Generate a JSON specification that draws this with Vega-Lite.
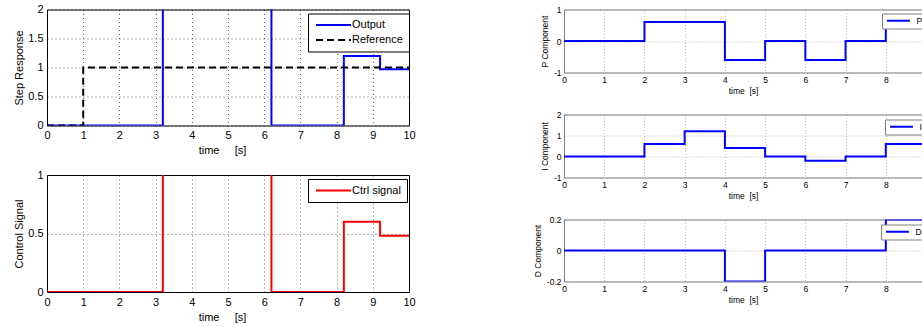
{
  "$schema": "https://vega.github.io/schema/vega-lite/v6.json",
  "padding": {"left": 12, "top": 2.5, "right": 0, "bottom": 0},
  "background": "white",
  "config": {
    "font": "Liberation Sans",
    "axis": {
      "grid": true,
      "labelFlush": false,
      "labelOverlap": false,
      "labelBound": false,
      "titleFontWeight": "normal",
      "labelColor": "#000",
      "titleColor": "#000",
      "tickSize": 0,
      "domain": false
    },
    "legend": {"title": null}
  },
  "datasets": {
    "resp": [
      {"t": 0, "v": 0, "s": "Output"},
      {"t": 3.2, "v": 5, "s": "Output"},
      {"t": 6.2, "v": 0, "s": "Output"},
      {"t": 8.2, "v": 1.2, "s": "Output"},
      {"t": 9.2, "v": 0.97, "s": "Output"},
      {"t": 10, "v": 0.97, "s": "Output"},
      {"t": 0, "v": 0, "s": "Reference"},
      {"t": 1, "v": 1, "s": "Reference"},
      {"t": 10, "v": 1, "s": "Reference"}
    ],
    "ctrl": [
      {"t": 0, "v": 0, "s": "Ctrl signal"},
      {"t": 3.2, "v": 5, "s": "Ctrl signal"},
      {"t": 6.2, "v": 0, "s": "Ctrl signal"},
      {"t": 8.2, "v": 0.6, "s": "Ctrl signal"},
      {"t": 9.2, "v": 0.48, "s": "Ctrl signal"},
      {"t": 10, "v": 0.48, "s": "Ctrl signal"}
    ],
    "p": [
      {"t": 0, "v": 0, "s": "P"},
      {"t": 2, "v": 0.6, "s": "P"},
      {"t": 4, "v": -0.6, "s": "P"},
      {"t": 5, "v": 0, "s": "P"},
      {"t": 6, "v": -0.6, "s": "P"},
      {"t": 7, "v": 0, "s": "P"},
      {"t": 8, "v": 0.6, "s": "P"},
      {"t": 10, "v": 0.6, "s": "P"}
    ],
    "i": [
      {"t": 0, "v": 0, "s": "I"},
      {"t": 2, "v": 0.6, "s": "I"},
      {"t": 3, "v": 1.2, "s": "I"},
      {"t": 4, "v": 0.4, "s": "I"},
      {"t": 5, "v": 0, "s": "I"},
      {"t": 6, "v": -0.2, "s": "I"},
      {"t": 7, "v": 0, "s": "I"},
      {"t": 8, "v": 0.6, "s": "I"},
      {"t": 10, "v": 0.6, "s": "I"}
    ],
    "d": [
      {"t": 0, "v": 0, "s": "D"},
      {"t": 4, "v": -0.2, "s": "D"},
      {"t": 5, "v": 0, "s": "D"},
      {"t": 8, "v": 0.2, "s": "D"},
      {"t": 10, "v": 0.2, "s": "D"}
    ]
  },
  "columns": 2,
  "align": "none",
  "spacing": 117,
  "resolve": {
    "scale": {"x": "independent", "y": "independent", "color": "independent", "strokeDash": "independent"},
    "axis": {"x": "independent", "y": "independent"},
    "legend": {"color": "independent", "strokeDash": "independent"}
  },
  "concat": [
    {
      "spacing": 11.5,
      "resolve": {
        "scale": {"x": "independent", "y": "independent", "color": "independent", "strokeDash": "independent"},
        "axis": {"x": "independent", "y": "independent"},
        "legend": {"color": "independent", "strokeDash": "independent"}
      },
      "vconcat": [
        {
          "width": 362,
          "height": 116,
          "view": {"stroke": "#000", "strokeWidth": 1},
          "data": {"name": "resp"},
          "mark": {"type": "line", "interpolate": "step-after", "strokeWidth": 2, "clip": true},
          "encoding": {
            "x": {
              "field": "t", "type": "quantitative",
              "scale": {"domain": [0, 10], "nice": false},
              "axis": {
                "values": [0, 1, 2, 3, 4, 5, 6, 7, 8, 9, 10],
                "title": "time\u00a0\u00a0\u00a0\u00a0\u00a0[s]",
                "titleX": 175,
                "labelFontSize": 11, "titleFontSize": 11,
                "labelPadding": 4, "titlePadding": 4,
                "gridColor": "#000", "gridOpacity": 0.6, "gridDash": [1, 3]
              }
            },
            "y": {
              "field": "v", "type": "quantitative",
              "scale": {"domain": [0, 2], "nice": false},
              "axis": {
                "values": [0, 0.5, 1, 1.5, 2],
                "labelExpr": "'' + datum.value",
                "title": "Step Response",
                "labelFontSize": 11, "titleFontSize": 11,
                "labelPadding": 4, "titlePadding": 3,
                "minExtent": 20, "maxExtent": 20,
                "gridColor": "#000", "gridOpacity": 0.6, "gridDash": [1, 3]
              }
            },
            "color": {
              "field": "s", "type": "nominal",
              "scale": {"domain": ["Output", "Reference"], "range": ["#0000ff", "#000000"]},
              "legend": {
                "orient": "none", "legendX": 261, "legendY": 4,
                "padding": 6, "strokeColor": "#000", "fillColor": "#fff",
                "symbolType": "M-5,0H5", "symbolSize": 49, "symbolStrokeWidth": 2,
                "symbolOffset": 14, "labelOffset": 13, "labelFontSize": 11,
                "rowPadding": 3, "labelColor": "#000"
              }
            },
            "strokeDash": {
              "field": "s", "type": "nominal",
              "scale": {"domain": ["Output", "Reference"], "range": [[1, 0], [7, 4]]},
              "legend": {
                "orient": "none", "legendX": 261, "legendY": 4,
                "padding": 6, "strokeColor": "#000", "fillColor": "#fff",
                "symbolType": "M-5,0H5", "symbolSize": 49, "symbolStrokeWidth": 2,
                "symbolOffset": 14, "labelOffset": 13, "labelFontSize": 11,
                "rowPadding": 3, "labelColor": "#000"
              }
            }
          }
        },
        {
          "width": 362,
          "height": 117,
          "view": {"stroke": "#000", "strokeWidth": 1},
          "data": {"name": "ctrl"},
          "mark": {"type": "line", "interpolate": "step-after", "strokeWidth": 2, "clip": true},
          "encoding": {
            "x": {
              "field": "t", "type": "quantitative",
              "scale": {"domain": [0, 10], "nice": false},
              "axis": {
                "values": [0, 1, 2, 3, 4, 5, 6, 7, 8, 9, 10],
                "title": "time\u00a0\u00a0\u00a0\u00a0\u00a0[s]",
                "titleX": 175,
                "labelFontSize": 11, "titleFontSize": 11,
                "labelPadding": 4, "titlePadding": 4,
                "gridColor": "#000", "gridOpacity": 0.6, "gridDash": [1, 3]
              }
            },
            "y": {
              "field": "v", "type": "quantitative",
              "scale": {"domain": [0, 1], "nice": false},
              "axis": {
                "values": [0, 0.5, 1],
                "labelExpr": "'' + datum.value",
                "title": "Control Signal",
                "labelFontSize": 11, "titleFontSize": 11,
                "labelPadding": 4, "titlePadding": 3,
                "minExtent": 20, "maxExtent": 20,
                "gridColor": "#000", "gridOpacity": 0.6, "gridDash": [1, 3]
              }
            },
            "color": {
              "field": "s", "type": "nominal",
              "scale": {"domain": ["Ctrl signal"], "range": ["#ff0000"]},
              "legend": {
                "orient": "none", "legendX": 261, "legendY": 4,
                "padding": 6, "strokeColor": "#000", "fillColor": "#fff",
                "symbolType": "M-5,0H5", "symbolSize": 49, "symbolStrokeWidth": 2,
                "symbolOffset": 14, "labelOffset": 13, "labelFontSize": 11,
                "labelColor": "#000"
              }
            }
          }
        }
      ]
    },
    {
      "spacing": 16,
      "resolve": {
        "scale": {"x": "independent", "y": "independent", "color": "independent"},
        "axis": {"x": "independent", "y": "independent"},
        "legend": {"color": "independent"}
      },
      "vconcat": [
        {
          "width": 358,
          "height": 63,
          "view": {"stroke": null},
          "data": {"name": "p"},
          "resolve": {"axis": {"x": "independent"}},
          "layer": [
            {
              "mark": {"type": "line", "interpolate": "step-after", "strokeWidth": 2, "clip": true},
              "encoding": {
                "x": {
                  "field": "t", "type": "quantitative",
                  "scale": {"domain": [0, 8.9], "nice": false},
                  "axis": {
                    "values": [0, 1, 2, 3, 4, 5, 6, 7, 8],
                    "title": "time\u00a0\u00a0[s]",
                    "labelFontSize": 8.5, "titleFontSize": 8.5,
                    "labelPadding": 3, "titlePadding": 2,
                    "domain": true, "domainColor": "#808080",
                    "gridColor": "#bbbbbb", "gridDash": [1, 2]
                  }
                },
                "y": {
                  "field": "v", "type": "quantitative",
                  "scale": {"domain": [-1, 1], "nice": false},
                  "axis": {
                    "values": [-1, 0, 1],
                    "labelExpr": "'' + datum.value",
                    "title": "P Component",
                    "labelFontSize": 8.5, "titleFontSize": 8.5,
                    "labelPadding": 3, "titlePadding": 4,
                    "domain": true, "domainColor": "#808080",
                    "gridColor": "#bbbbbb", "gridDash": [1, 2]
                  }
                },
                "color": {
                  "field": "s", "type": "nominal",
                  "scale": {"domain": ["P"], "range": ["#0000ff"]},
                  "legend": {
                    "orient": "none", "legendX": 318, "legendY": 4,
                    "padding": 3, "strokeColor": "#808080", "fillColor": "#fff",
                    "symbolType": "M-5,0H5", "symbolSize": 21, "symbolStrokeWidth": 2,
                    "symbolOffset": 9.2, "labelOffset": 13.8, "labelFontSize": 8.5,
                    "labelColor": "#000"
                  }
                }
              }
            },
            {
              "mark": {"type": "rule", "opacity": 0, "clip": true},
              "encoding": {
                "x": {
                  "field": "t", "type": "quantitative",
                  "axis": {"orient": "top", "labels": false, "ticks": false, "grid": false, "domain": true, "domainColor": "#808080", "title": null}
                }
              }
            }
          ]
        },
        {
          "width": 358,
          "height": 63,
          "view": {"stroke": null},
          "data": {"name": "i"},
          "resolve": {"axis": {"x": "independent"}},
          "layer": [
            {
              "mark": {"type": "line", "interpolate": "step-after", "strokeWidth": 2, "clip": true},
              "encoding": {
                "x": {
                  "field": "t", "type": "quantitative",
                  "scale": {"domain": [0, 8.9], "nice": false},
                  "axis": {
                    "values": [0, 1, 2, 3, 4, 5, 6, 7, 8],
                    "title": "time\u00a0\u00a0[s]",
                    "labelFontSize": 8.5, "titleFontSize": 8.5,
                    "labelPadding": 3, "titlePadding": 2,
                    "domain": true, "domainColor": "#808080",
                    "gridColor": "#bbbbbb", "gridDash": [1, 2]
                  }
                },
                "y": {
                  "field": "v", "type": "quantitative",
                  "scale": {"domain": [-1, 2], "nice": false},
                  "axis": {
                    "values": [-1, 0, 1, 2],
                    "labelExpr": "'' + datum.value",
                    "title": "I Component",
                    "labelFontSize": 8.5, "titleFontSize": 8.5,
                    "labelPadding": 3, "titlePadding": 4,
                    "domain": true, "domainColor": "#808080",
                    "gridColor": "#bbbbbb", "gridDash": [1, 2]
                  }
                },
                "color": {
                  "field": "s", "type": "nominal",
                  "scale": {"domain": ["I"], "range": ["#0000ff"]},
                  "legend": {
                    "orient": "none", "legendX": 321, "legendY": 5,
                    "padding": 3, "strokeColor": "#808080", "fillColor": "#fff",
                    "symbolType": "M-5,0H5", "symbolSize": 21, "symbolStrokeWidth": 2,
                    "symbolOffset": 9.2, "labelOffset": 13.8, "labelFontSize": 8.5,
                    "labelColor": "#000"
                  }
                }
              }
            },
            {
              "mark": {"type": "rule", "opacity": 0, "clip": true},
              "encoding": {
                "x": {
                  "field": "t", "type": "quantitative",
                  "axis": {"orient": "top", "labels": false, "ticks": false, "grid": false, "domain": true, "domainColor": "#808080", "title": null}
                }
              }
            }
          ]
        },
        {
          "width": 358,
          "height": 62,
          "view": {"stroke": null},
          "data": {"name": "d"},
          "resolve": {"axis": {"x": "independent"}},
          "layer": [
            {
              "mark": {"type": "line", "interpolate": "step-after", "strokeWidth": 2, "clip": true},
              "encoding": {
                "x": {
                  "field": "t", "type": "quantitative",
                  "scale": {"domain": [0, 8.9], "nice": false},
                  "axis": {
                    "values": [0, 1, 2, 3, 4, 5, 6, 7, 8],
                    "title": "time\u00a0\u00a0[s]",
                    "labelFontSize": 8.5, "titleFontSize": 8.5,
                    "labelPadding": 3, "titlePadding": 2,
                    "domain": true, "domainColor": "#808080",
                    "gridColor": "#bbbbbb", "gridDash": [1, 2]
                  }
                },
                "y": {
                  "field": "v", "type": "quantitative",
                  "scale": {"domain": [-0.2, 0.2], "nice": false},
                  "axis": {
                    "values": [-0.2, 0, 0.2],
                    "labelExpr": "'' + datum.value",
                    "title": "D Component",
                    "labelFontSize": 8.5, "titleFontSize": 8.5,
                    "labelPadding": 3, "titlePadding": 4,
                    "domain": true, "domainColor": "#808080",
                    "gridColor": "#bbbbbb", "gridDash": [1, 2]
                  }
                },
                "color": {
                  "field": "s", "type": "nominal",
                  "scale": {"domain": ["D"], "range": ["#0000ff"]},
                  "legend": {
                    "orient": "none", "legendX": 317, "legendY": 5,
                    "padding": 3, "strokeColor": "#808080", "fillColor": "#fff",
                    "symbolType": "M-5,0H5", "symbolSize": 21, "symbolStrokeWidth": 2,
                    "symbolOffset": 9.2, "labelOffset": 13.8, "labelFontSize": 8.5,
                    "labelColor": "#000"
                  }
                }
              }
            },
            {
              "mark": {"type": "rule", "opacity": 0, "clip": true},
              "encoding": {
                "x": {
                  "field": "t", "type": "quantitative",
                  "axis": {"orient": "top", "labels": false, "ticks": false, "grid": false, "domain": true, "domainColor": "#808080", "title": null}
                }
              }
            }
          ]
        }
      ]
    }
  ]
}
